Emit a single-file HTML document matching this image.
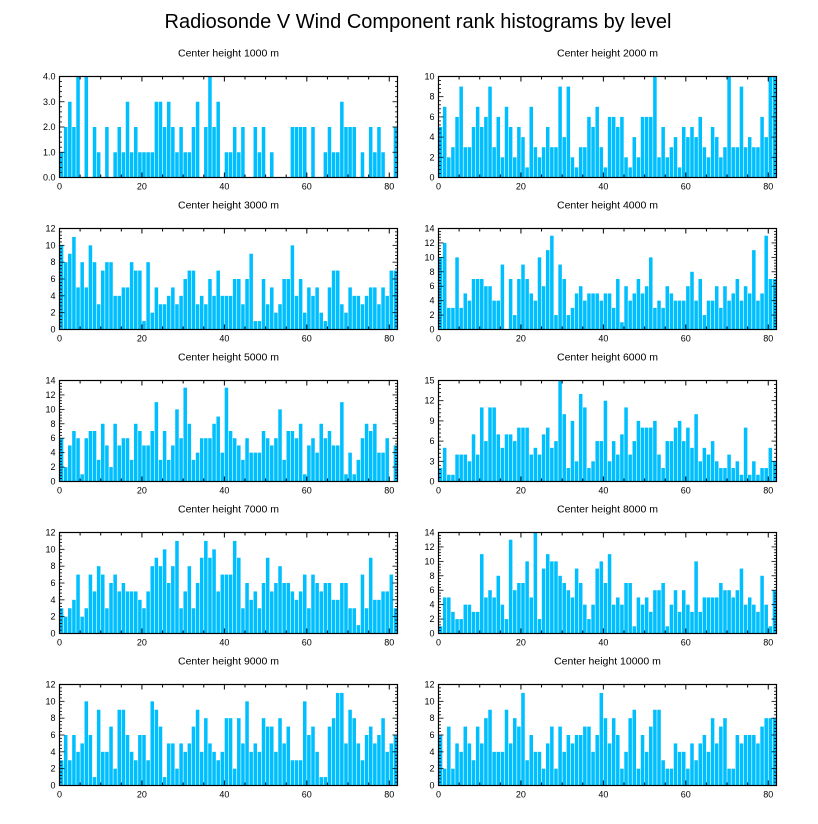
<!DOCTYPE html>
<html><head><meta charset="utf-8"><style>
html,body{margin:0;padding:0;background:#fff;width:818px;height:824px;overflow:hidden}
svg{display:block;font-family:"Liberation Sans",sans-serif}
</style></head><body>
<svg id="chart" width="818" height="824" viewBox="0 0 818 824" xmlns="http://www.w3.org/2000/svg">
<rect width="818" height="824" fill="#fff"/>
<text x="418" y="28" text-anchor="middle" font-size="20">Radiosonde V Wind Component rank histograms by level</text>
</svg>
<script>
const panelTitles = ["Center height 1000 m","Center height 2000 m","Center height 3000 m","Center height 4000 m","Center height 5000 m","Center height 6000 m","Center height 7000 m","Center height 8000 m","Center height 9000 m","Center height 10000 m"];
const yMaxes = [4,10,12,14,14,15,12,14,12,12];
const yTickSteps = [1,2,2,2,2,3,2,2,2,2];
const xTickLabels = [0,20,40,60,80];
const h1000 = [1,2,3,2,4,0,4,0,2,1,0,2,0,1,2,1,3,1,2,1,1,1,1,3,3,2,3,2,1,2,1,1,2,3,0,2,4,2,3,0,1,1,2,1,2,0,0,2,1,2,0,1,0,0,0,0,2,2,2,2,0,2,0,0,1,2,1,1,3,2,2,2,0,1,0,2,1,2,1,0,0,2];
const h2000 = [5,7,2,3,6,9,3,3,5,7,5,6,9,3,6,2,7,5,2,5,4,1,7,3,2,3,5,3,3,9,4,9,2,1,3,3,6,5,7,3,1,6,6,5,6,2,1,4,2,6,6,6,10,2,5,2,3,4,1,5,4,5,4,6,3,2,5,4,2,3,10,3,3,9,3,4,3,3,6,4,10,10];
const h3000 = [10,8,9,11,5,8,5,10,8,3,7,8,8,4,4,5,5,8,7,7,1,8,2,5,3,3,4,5,3,4,6,7,7,3,4,3,6,4,7,4,4,4,6,6,3,6,9,1,1,6,3,5,2,3,6,6,10,4,6,2,5,4,5,2,1,5,7,7,3,2,5,4,4,3,4,5,5,3,5,4,7,7];
const h4000 = [10,12,3,3,10,3,5,4,7,7,7,6,6,4,4,9,0,7,2,7,9,7,5,4,10,6,11,13,2,9,7,2,3,5,6,4,5,5,5,4,5,5,3,7,1,6,4,5,7,5,6,10,3,4,3,6,5,4,4,4,6,8,4,7,2,4,4,6,3,6,4,5,7,4,6,5,11,4,5,13,7,7];
const h5000 = [6,2,5,7,6,1,6,7,7,3,8,5,2,8,5,6,6,3,8,7,5,5,7,11,3,7,3,5,10,6,13,8,3,4,6,6,6,8,9,4,13,7,6,5,3,6,4,4,4,7,6,5,6,10,3,7,7,6,8,1,5,6,4,8,6,7,5,5,11,1,4,1,3,6,8,7,8,4,4,6,0,5];
const h6000 = [2,5,1,1,4,4,4,3,7,4,11,6,11,11,7,5,7,7,6,8,8,8,4,5,4,7,8,5,6,15,10,2,9,3,13,11,2,3,6,6,12,3,6,4,7,11,4,6,9,8,8,8,9,4,2,6,6,8,9,6,8,5,10,3,5,4,6,3,2,2,4,2,3,1,8,1,3,1,2,2,5,3];
const h7000 = [3,2,3,4,7,2,3,7,5,8,7,3,6,7,5,6,5,5,5,4,3,5,8,9,8,10,6,8,11,3,5,8,3,6,9,11,9,10,5,7,7,7,11,9,3,6,4,5,3,6,9,5,6,8,6,6,5,4,5,7,3,7,6,5,6,6,4,4,6,6,3,3,1,7,3,9,4,4,5,5,7,3];
const h8000 = [1,5,5,3,2,2,4,4,3,3,11,5,6,5,8,4,2,13,6,7,7,10,5,14,2,9,11,10,10,8,7,6,5,9,7,4,2,4,9,10,7,11,4,5,4,7,7,1,5,4,5,3,6,6,7,1,4,6,3,6,4,3,10,3,5,5,5,5,7,6,6,5,6,9,4,5,4,3,8,4,1,6];
const h9000 = [3,6,3,6,4,5,10,6,1,9,4,4,7,2,9,9,6,4,3,6,6,3,10,9,7,1,5,5,2,5,4,5,7,9,4,8,5,4,3,4,8,8,2,8,5,10,4,5,4,8,7,7,4,8,5,7,3,3,3,10,6,7,4,1,1,7,8,11,11,5,9,8,5,3,6,7,5,6,8,4,5,6];
const h10000 = [6,2,7,2,5,4,7,5,3,7,5,8,9,4,4,4,9,5,8,7,11,3,6,4,4,2,5,7,2,7,4,6,5,6,6,7,7,4,6,11,8,5,8,6,2,4,8,9,2,6,4,7,9,9,3,2,2,5,4,4,2,5,3,5,6,4,8,5,7,8,2,2,6,5,6,6,6,5,7,8,8,8];
const series = [h1000,h2000,h3000,h4000,h5000,h6000,h7000,h8000,h9000,h10000];
const X_MAX = 82;

const svg = document.getElementById('chart');
const NS = 'http://www.w3.org/2000/svg';
function mk(tag, attrs, parent){const e=document.createElementNS(NS,tag);for(const k in attrs)e.setAttribute(k,attrs[k]);(parent||svg).appendChild(e);return e;}

const W = 338, H = 101;
for (let p = 0; p < 10; p++) {
  const col = p % 2, row = Math.floor(p / 2);
  const x0 = col ? 438.5 : 59.5, y0 = 76.5 + row * 152;
  const g = mk('g', {});
  
  
  const xs = v => x0 + v / X_MAX * W;
  const ys = v => y0 + H - v / yMaxes[p] * H;
  const t = mk('text', {x: x0 + W / 2, y: y0 - 20, 'text-anchor': 'middle', 'font-size': '10.5'}, g);
  t.textContent = panelTitles[p];
  
  
  const data = series[p];
  const bw = W / X_MAX;
  data.forEach((v, i) => {
    if (v <= 0) return;
    const r = mk('rect', {x: xs(i) + 0.3, y: ys(v), width: bw - 0.6, height: ys(0) - ys(v), fill: '#00BFFF'}, g);
    
    
  });
  const frame = mk('rect', {x: x0, y: y0, width: W, height: H, fill: 'none', stroke: '#000', 'stroke-width': 1.2}, g);
  
  
  for (let v = 0; v <= X_MAX; v += 5) {
    const major = v % 20 === 0, L = major ? 5 : 3, x = xs(v);
    mk('line', {x1: x, x2: x, y1: y0 + H, y2: y0 + H - L, stroke: '#000', 'stroke-width': 1}, g);
    mk('line', {x1: x, x2: x, y1: y0, y2: y0 + L, stroke: '#000', 'stroke-width': 1}, g);
  }
  xTickLabels.forEach(v => {
    const tl = mk('text', {x: xs(v), y: y0 + H + 12, 'text-anchor': 'middle', 'font-size': '9'}, g);
    tl.textContent = v;
    
    
  });
  const step = yTickSteps[p], minor = step / 5;
  for (let k = 0; k * minor <= yMaxes[p] + 1e-9; k++) {
    const v = k * minor, y = ys(v), major = k % 5 === 0, L = major ? 5 : 2.5;
    mk('line', {x1: x0, x2: x0 + L, y1: y, y2: y, stroke: '#000', 'stroke-width': 0.8}, g);
    mk('line', {x1: x0 + W, x2: x0 + W - L, y1: y, y2: y, stroke: '#000', 'stroke-width': 0.8}, g);
    if (major) {
      const yl = mk('text', {x: x0 - 4, y: y + 3, 'text-anchor': 'end', 'font-size': '9'}, g);
      yl.textContent = p === 0 ? v.toFixed(1) : Math.round(v);
      
      
    }
  }
}
</script>
</body></html>
